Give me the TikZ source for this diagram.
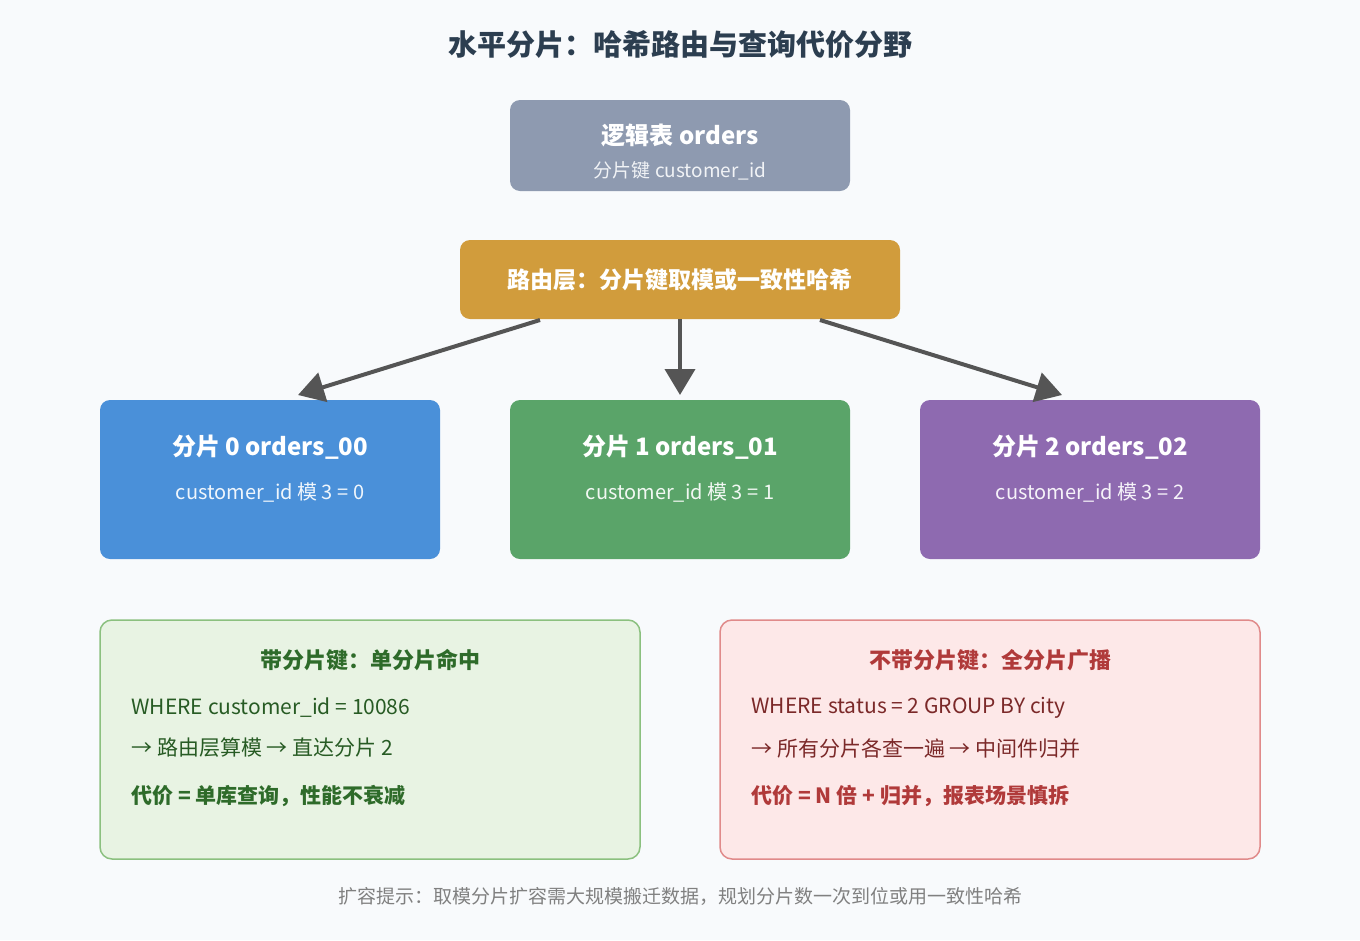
\documentclass[tikz,border=0pt]{standalone}
\usepackage{fontspec}
\setmainfont{Noto Sans CJK SC}
\usetikzlibrary{positioning,arrows.meta}
\definecolor{bgc}{HTML}{F8FAFC}
\definecolor{titlec}{HTML}{2C3E50}
\definecolor{logicc}{HTML}{8E9AB0}
\definecolor{routec}{HTML}{D19C3C}
\definecolor{shardA}{HTML}{4A90D9}
\definecolor{shardB}{HTML}{5AA469}
\definecolor{shardC}{HTML}{8E6AB0}
\definecolor{arrowc}{HTML}{555555}
\definecolor{okfill}{HTML}{E8F3E3}
\definecolor{okline}{HTML}{8BC07F}
\definecolor{oktext}{HTML}{2E6B2A}
\definecolor{badfill}{HTML}{FDE8E8}
\definecolor{badline}{HTML}{E08A8A}
\definecolor{badtext}{HTML}{B03A3A}
\begin{document}
\begin{tikzpicture}[x=1pt,y=1pt,
  box/.style={rounded corners=10pt,inner sep=0pt,text=white,align=center},
  shard/.style={box,minimum width=340pt,minimum height=159pt},
  note/.style={rounded corners=12pt,line width=1.5pt,minimum width=540pt,minimum height=239pt,inner sep=0pt},
  head/.style={font=\fontsize{24}{28}\selectfont\bfseries},
  sub/.style={font=\fontsize{20}{24}\selectfont},
  line/.style={font=\fontsize{21}{25}\selectfont,anchor=west},
  flow/.style={-{Triangle[length=26pt,width=30pt]},arrowc,line width=4pt}]
\fill[bgc] (0,0) rectangle (1360,-940);
\useasboundingbox (0,0) rectangle (1360,-940);

\node[font=\fontsize{29}{34}\selectfont\bfseries,text=titlec] (title) at (680,-45) {水平分片：哈希路由与查询代价分野};

% logical table and router
\node[box,fill=logicc,minimum width=340pt,minimum height=91pt] (logic) at (680,-145.5) {};
\node[head,text=white] at (680,-135) {逻辑表 orders};
\node[font=\fontsize{19}{23}\selectfont,text=white!88!logicc] at (680,-171) {分片键 customer\_id};
\node[box,fill=routec,minimum width=440pt,minimum height=79pt,font=\fontsize{23}{27}\selectfont\bfseries] (route) at (680,-279.5) {路由层：分片键取模或一致性哈希};

% shards
\foreach \n/\x/\c in {0/270/shardA,1/680/shardB,2/1090/shardC}{
  \node[shard,fill=\c] (s\n) at (\x,-479.5) {};
  \node[head,text=white] at (\x,-447) {分片 \n\ orders\_0\n};
  \node[sub,text=white!92!\c] at (\x,-492) {customer\_id 模 3 = \n};
}
\coordinate (r0) at (540,-320);
\coordinate (r2) at (820,-320);
\draw[flow] (r0) -- (298,-395);
\draw[flow] (route.south) -- (680,-395);
\draw[flow] (r2) -- (1062,-395);

% query cost notes
\node[note,fill=okfill,draw=okline] (hit) at (370,-739.5) {};
\node[font=\fontsize{22}{26}\selectfont\bfseries,text=oktext] at (370,-660) {带分片键：单分片命中};
\node[line,text=oktext!85!black] at (128,-708) {WHERE customer\_id = 10086};
\node[line,text=oktext!85!black] at (128,-748) {→ 路由层算模 → 直达分片 2};
\node[line,text=oktext,font=\fontsize{21}{25}\selectfont\bfseries] at (128,-796) {代价 = 单库查询，性能不衰减};

\node[note,fill=badfill,draw=badline] (bcast) at (990,-739.5) {};
\node[font=\fontsize{22}{26}\selectfont\bfseries,text=badtext] at (990,-660) {不带分片键：全分片广播};
\node[line,text=badtext!70!black] at (748,-708) {WHERE status = 2 GROUP BY city};
\node[line,text=badtext!70!black] at (748,-748) {→ 所有分片各查一遍 → 中间件归并};
\node[line,text=badtext,font=\fontsize{21}{25}\selectfont\bfseries] at (748,-796) {代价 = N 倍 + 归并，报表场景慎拆};

\node[font=\fontsize{19}{23}\selectfont,text=black!50] (tip) at (680,-896) {扩容提示：取模分片扩容需大规模搬迁数据，规划分片数一次到位或用一致性哈希};
\end{tikzpicture}
\end{document}
